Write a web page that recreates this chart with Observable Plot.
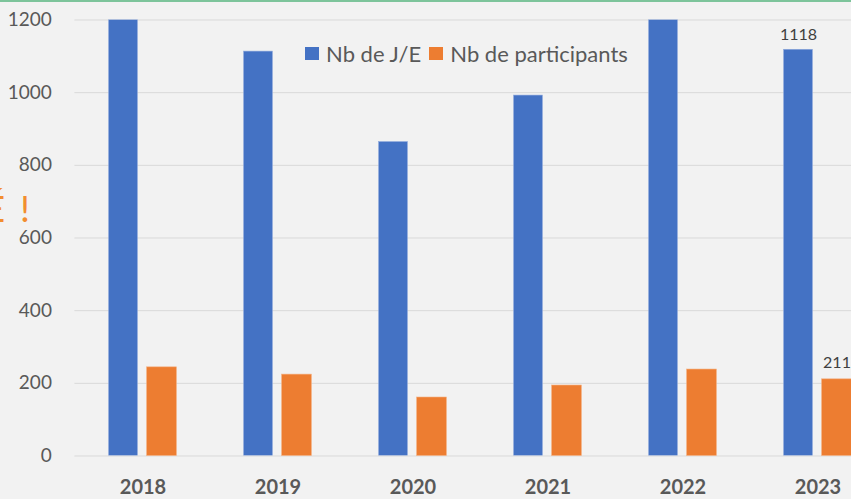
<!DOCTYPE html>
<html>
<head>
<meta charset="utf-8">
<script src="https://cdn.jsdelivr.net/npm/d3@7"></script>
<script src="https://cdn.jsdelivr.net/npm/@observablehq/plot@0.6"></script>
<style>
  html, body { margin: 0; padding: 0; background: #f2f2f2; }
  #wrap { position: relative; width: 851px; height: 499px; overflow: hidden; background: #f2f2f2; font-family: Lato, "Open Sans", sans-serif; }
  #topline { position: absolute; left: 0; top: 0; width: 851px; height: 2px; background: #7dc49b; z-index: 3; }
  #legend { position: absolute; left: 305px; top: 40px; height: 26px; display: flex; align-items: center; font-size: 22px; color: #595959; z-index: 2; }
  #legend .sw { width: 14px; height: 13px; display: inline-block; margin-right: 7px; }
  #legend .item { display: flex; align-items: center; margin-right: 8px; white-space: nowrap; }
  .deco { position: absolute; color: #f28e2f; font-family: Lato, sans-serif; font-size: 37px; line-height: 28px; height: 28px; z-index: 2; }
  #chart { position: absolute; left: 0; top: 0; width: 886px; }
  #chart svg { max-width: none !important; }
</style>
</head>
<body>
<div id="wrap">
  <div id="topline"></div>
  <div id="chart"></div>
  <div class="deco" style="left:-30px; top:194px; width:35px; text-align:right;">É</div>
  <div class="deco" style="left:20px; top:194px;">!</div>
  <div id="legend">
    <span class="item"><span class="sw" style="background:#4472c4"></span>Nb de J/E</span>
    <span class="item"><span class="sw" style="background:#ed7d31"></span>Nb de participants</span>
  </div>
</div>
<script>
const years = ["2018", "2019", "2020", "2021", "2022", "2023"];
const nbJE = [1200, 1113, 864, 992, 1200, 1118];
const nbParticipants = [244, 224, 161, 194, 238, 211];
const yTicks = [0, 200, 400, 600, 800, 1000, 1200];
const labelledYear = "2023";

const data = years.map((year, i) => ({year, je: nbJE[i], part: nbParticipants[i]}));
const labelled = data.filter(d => d.year === labelledYear);

const chart = Plot.plot({
  width: 886,
  height: 499,
  marginLeft: 74.4,
  marginRight: 0.4,
  marginTop: 19.5,
  marginBottom: 43.5,
  style: {background: "transparent", fontFamily: "Lato, 'Open Sans', sans-serif", color: "#595959", overflow: "visible", maxWidth: "none"},
  x: {type: "band", domain: years, padding: 0, label: null},
  y: {domain: [0, 1200], label: null},
  marks: [
    Plot.ruleY(yTicks, {stroke: "#d9d9d9", strokeWidth: 1}),
    Plot.barY(data, {x: "year", y: "je", fill: "#4472c4", stroke: "#8faadc", strokeWidth: 0.6, insetLeft: 33.6, insetRight: 72.6, clip: true}),
    Plot.barY(data, {x: "year", y: "part", fill: "#ed7d31", stroke: "#f4b183", strokeWidth: 0.6, insetLeft: 71.6, insetRight: 33.6}),
    Plot.axisY(yTicks, {tickSize: 0, tickPadding: 23, fontSize: 19, tickFormat: d => String(d), label: null}),
    Plot.axisX({tickSize: 0, tickPadding: 24, fontSize: 20, fontWeight: "bold", label: null}),
    Plot.text(labelled, {x: "year", y: "je", text: d => String(d.je), dx: -19.5, dy: -10, lineAnchor: "bottom", fontSize: 16, fill: "#404040"}),
    Plot.text(labelled, {x: "year", y: "part", text: d => String(d.part), dx: 19, dy: -11, lineAnchor: "bottom", fontSize: 16, fill: "#404040"})
  ]
});
document.getElementById("chart").appendChild(chart);
</script>
</body>
</html>
